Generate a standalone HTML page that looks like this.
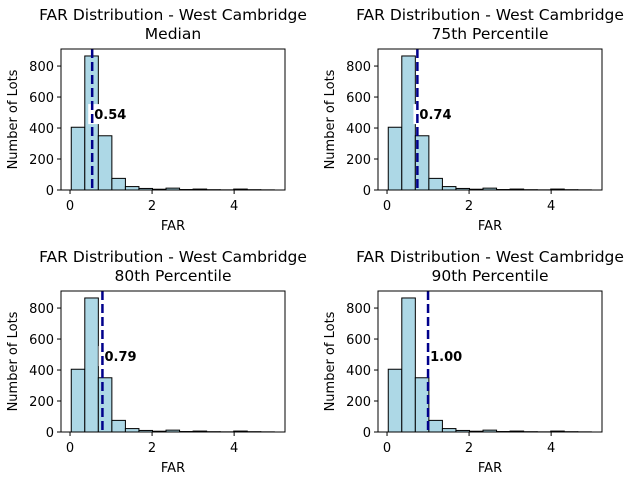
<!DOCTYPE html>
<html><head><meta charset="utf-8"><style>
body{margin:0;background:#fff;}
svg{font-family:"DejaVu Sans","Liberation Sans",sans-serif;}
</style></head><body>
<svg id="chart" width="640" height="480" viewBox="0 0 640 480"></svg>
<script>
const binEdgesStart = 0.03;
const binWidth = 0.33;
const counts = [405, 865, 350, 75, 22, 10, 5, 12, 3, 6, 2, 1, 6, 2, 1];
const panelTitles = ["Median", "75th Percentile", "80th Percentile", "90th Percentile"];
const thresholds = [0.54, 0.74, 0.79, 1.00];
const xTicks = [0, 2, 4];
const yTicks = [0, 200, 400, 600, 800];
const panels = [[61,49],[378,49],[61,291],[378,291]];
const W=224,H=141,xmin=-0.22,xmax=5.24,ymin=0,ymax=910;
const NS="http://www.w3.org/2000/svg";
const svg=document.getElementById('chart');
function mk(tag,attrs,parent){const e=document.createElementNS(NS,tag);for(const k in attrs)e.setAttribute(k,attrs[k]);(parent||svg).appendChild(e);return e;}
panels.forEach((p,i)=>{
  const [ox,oy]=p;
  const g=mk('g',{});
  
  
  const sx=v=>ox+(v-xmin)/(xmax-xmin)*W;
  const sy=v=>oy+H-(v-ymin)/(ymax-ymin)*H;
  const t=mk('text',{x:ox+W/2,y:oy-29,'text-anchor':'middle','font-size':'15.5',fill:'#000'},g);
  
  
  const ts1=mk('tspan',{x:ox+W/2},t);ts1.textContent='FAR Distribution - West Cambridge';
  const ts2=mk('tspan',{x:ox+W/2,dy:'19'},t);ts2.textContent=panelTitles[i];
  counts.forEach((c,j)=>{
    const x0=binEdgesStart+j*binWidth;
    const r=mk('rect',{x:sx(x0),y:sy(c),width:sx(x0+binWidth)-sx(x0),height:sy(0)-sy(c),fill:'#add8e6',stroke:'#000','stroke-width':'1'},g);
    
    
  });
  const lx=sx(thresholds[i]+0.05);
  const ly=sy(490);
  const bg=mk('rect',{x:lx-6,y:ly-10,width:40,height:20,fill:'#fff'},g);
  
  
  const ln=mk('line',{x1:sx(thresholds[i]),x2:sx(thresholds[i]),y1:oy,y2:oy+H,stroke:'#00008b','stroke-width':'2.5','stroke-dasharray':'9,4'},g);
  
  
  const lt=mk('text',{x:lx,y:ly+5,'font-size':'13','font-weight':'bold',fill:'#000'},g);
  
  
  lt.textContent=thresholds[i].toFixed(2);
  const fr=mk('rect',{x:ox,y:oy,width:W,height:H,fill:'none',stroke:'#000','stroke-width':'1'},g);
  
  
  xTicks.forEach(v=>{
    mk('line',{x1:sx(v),x2:sx(v),y1:oy+H,y2:oy+H+4,stroke:'#000'},g);
    const tt=mk('text',{x:sx(v),y:oy+H+20,'text-anchor':'middle','font-size':'13'},g);
    
    
    tt.textContent=v;
  });
  yTicks.forEach(v=>{
    mk('line',{x1:ox-4,x2:ox,y1:sy(v),y2:sy(v),stroke:'#000'},g);
    const tt=mk('text',{x:ox-7,y:sy(v)+5,'text-anchor':'end','font-size':'13'},g);
    
    
    tt.textContent=v;
  });
  const xl=mk('text',{x:ox+W/2,y:oy+H+40,'text-anchor':'middle','font-size':'13'},g);
  
  
  xl.textContent='FAR';
  const yl=mk('text',{x:0,y:0,'text-anchor':'middle','font-size':'13',transform:`translate(${ox-44},${oy+H/2}) rotate(-90)`},g);
  
  
  yl.textContent='Number of Lots';
});
</script>
</body></html>
